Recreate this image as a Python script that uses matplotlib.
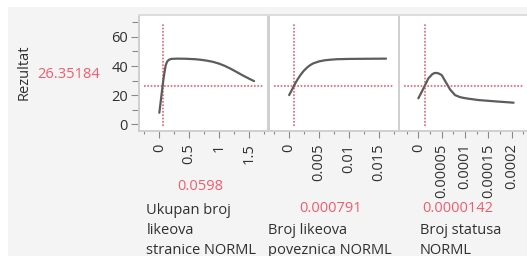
import matplotlib
matplotlib.use("Agg")
import matplotlib.pyplot as plt
from matplotlib.patches import Rectangle
from matplotlib.ticker import MultipleLocator, FixedLocator

plt.rcParams['font.family'] = ['Open Sans', 'DejaVu Sans']

# ---- data ----
y_label = "Rezultat"
y_current = "26.35184"
y_ticks = [0, 20, 40, 60]

x1 = [0, 0.02, 0.04, 0.067, 0.09, 0.107, 0.13, 0.16, 0.2, 0.3, 0.45, 0.6, 0.7, 0.8,
      0.9, 1.0, 1.1, 1.2, 1.3, 1.4, 1.5, 1.59]
y1 = [8, 14.5, 21.3, 30.3, 36.5, 40.5, 43.0, 44.3, 44.9, 45.1, 45.0, 44.7, 44.3, 43.7,
      42.9, 41.7, 40.1, 38.1, 35.9, 33.6, 31.5, 29.7]

x2 = [0, 0.0005, 0.001, 0.0015, 0.002, 0.0025, 0.003, 0.0035, 0.004, 0.005, 0.006,
      0.007, 0.008, 0.010, 0.013, 0.0162]
y2 = [20.1, 24.0, 28.0, 31.5, 34.5, 37.0, 39.0, 40.6, 41.8, 43.2, 44.0,
      44.4, 44.7, 44.9, 45.0, 45.1]

x3 = [0, 0.0000072, 0.0000144, 0.0000214, 0.00003, 0.0000345, 0.0000394, 0.0000445,
      0.0000501, 0.0000572, 0.0000679, 0.0000786, 0.0000894, 0.0001, 0.000115,
      0.000129, 0.000165, 0.000204]
y3 = [17.9, 22.3, 26.9, 31.5, 34.5, 35.2, 35.3, 34.8, 33.8, 29.9, 24.0, 20.1, 18.7,
      18.0, 17.3, 16.7, 15.8, 14.9]

cur_x = [0.0598, 0.000791, 0.0000142]
cur_x_text = ["0.0598", "0.000791", "0.0000142"]
cur_y = 26.35184

xticks1 = [0, 0.5, 1, 1.5]
xticklabels1 = ["0", "0.5", "1", "1.5"]
xticks2 = [0, 0.005, 0.01, 0.015]
xticklabels2 = ["0", "0.005", "0.01", "0.015"]
xticks3 = [0, 0.00005, 0.0001, 0.00015, 0.0002]
xticklabels3 = ["0", "0.00005", "0.0001", "0.00015", "0.0002"]

var_labels = ["Ukupan broj\nlikeova\nstranice NORML",
              "Broj likeova\npoveznica NORML",
              "Broj statusa\nNORML"]

# ---- figure ----
W, H = 527, 256
fig = plt.figure(figsize=(W / 100, H / 100), dpi=100)
fig.patch.set_facecolor("white")
fig.add_artist(Rectangle((8 / W, 0), 1, 1 - 7 / H, transform=fig.transFigure,
                         facecolor="#f4f4f4", edgecolor="none", zorder=-10))

RED = "#f35b6d"
CURVE = "#5c5c5c"
TXT = "#303030"
TICKC = "#8a8a8a"
FS = 10.5

def fx(px):
    return px / W

def fy(py):
    return 1 - py / H

top, bot = 15, 131
panels = [(139, 268), (269, 399), (399, 529)]
xlims = [(-0.341, 1.824), (-0.00337, 0.01837), (-0.0000414, 0.000237)]
xs = [x1, x2, x3]
ys = [y1, y2, y3]
xt = [xticks1, xticks2, xticks3]
xtl = [xticklabels1, xticklabels2, xticklabels3]
minors = [0.25, 0.0025, 0.000025]

for i, (l, r) in enumerate(panels):
    ax = fig.add_axes([fx(l), fy(bot), (r - l) / W, (bot - top) / H])
    ax.set_facecolor("white")
    ax.set_xlim(*xlims[i])
    ax.set_ylim(-4.5, 75)
    ax.plot(xs[i], ys[i], color=CURVE, lw=1.6, solid_capstyle="round",
            solid_joinstyle="round", zorder=3)
    ax.axvline(cur_x[i], ymin=0.045, ymax=0.935, color=RED, lw=1.2,
               linestyle=(0, (1, 1)), zorder=2)
    ax.axhline(cur_y, xmin=0.04, xmax=0.96, color=RED, lw=1.2,
               linestyle=(0, (1, 1)), zorder=2)
    for s in ax.spines.values():
        s.set_color("#cfcfcf")
        s.set_linewidth(1.4)
    ax.spines["top"].set_color("#dcdcdc")
    ax.set_xticks(xt[i])
    ax.set_xticklabels(xtl[i], rotation=90, fontsize=FS, color=TXT)
    ax.xaxis.set_minor_locator(MultipleLocator(minors[i]))
    ax.tick_params(axis="x", which="major", length=5, width=0.8, color=TICKC, pad=4)
    ax.tick_params(axis="x", which="minor", length=2.5, width=0.8, color=TICKC)
    if i == 0:
        ax.set_yticks(y_ticks)
        ax.set_yticklabels([str(v) for v in y_ticks], fontsize=FS, color=TXT)
        ax.yaxis.set_minor_locator(FixedLocator([10, 30, 50, 70]))
        ax.tick_params(axis="y", which="major", length=6, width=0.8, color=TICKC, pad=2)
        ax.tick_params(axis="y", which="minor", length=5, width=0.8, color=TICKC)
    else:
        ax.set_yticks([])
        ax.tick_params(axis="y", which="both", left=False, labelleft=False)

# Y label and current value
fig.text(fx(24), fy(72), y_label, rotation=90, ha="center", va="center",
         fontsize=FS, color=TXT)
fig.text(fx(100), fy(74), y_current, ha="right", va="center", fontsize=FS, color=RED)

# current x values
fig.text(fx(200), fy(187), cur_x_text[0], ha="center", va="center", fontsize=FS, color=RED)
fig.text(fx(331), fy(208), cur_x_text[1], ha="center", va="center", fontsize=FS, color=RED)
fig.text(fx(458), fy(208), cur_x_text[2], ha="center", va="center", fontsize=FS, color=RED)

# variable labels
lab_pos = [(146.5, 210), (268, 230), (420, 230)]
for (px, py), lab in zip(lab_pos, var_labels):
    for k, line in enumerate(lab.split("\n")):
        fig.text(fx(px), fy(py + 20 * k), line, ha="left", va="center",
                 fontsize=FS, color=TXT)

fig.savefig("out.png", dpi=100)
